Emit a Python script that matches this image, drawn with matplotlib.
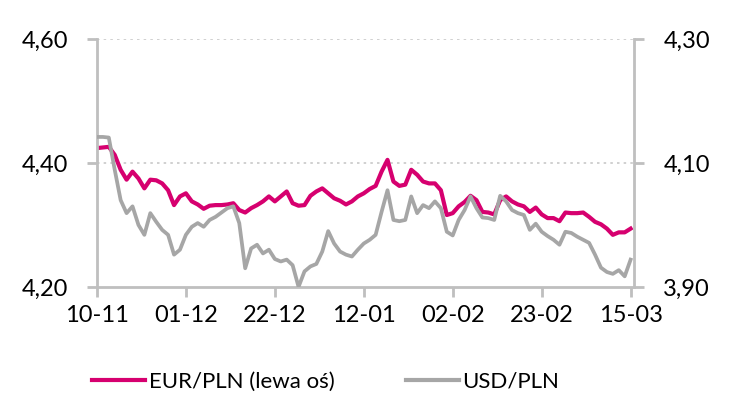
import matplotlib.pyplot as plt

plt.rcParams['font.family'] = ['Lato', 'DejaVu Sans']

# kursy (dni robocze)
eur_pln = [4.424, 4.425, 4.426, 4.413, 4.389, 4.373, 4.386, 4.375, 4.359, 4.373,
           4.372, 4.367, 4.356, 4.332, 4.346, 4.351, 4.338, 4.333, 4.326, 4.331,
           4.332, 4.332, 4.333, 4.335, 4.324, 4.320, 4.327, 4.332, 4.338, 4.346,
           4.338, 4.346, 4.354, 4.335, 4.331, 4.332, 4.347, 4.354, 4.359, 4.351,
           4.343, 4.339, 4.333, 4.338, 4.346, 4.351, 4.358, 4.363, 4.386, 4.405,
           4.370, 4.363, 4.365, 4.389, 4.381, 4.370, 4.367, 4.367, 4.356, 4.316,
           4.319, 4.330, 4.337, 4.347, 4.340, 4.321, 4.320, 4.317, 4.340, 4.346,
           4.338, 4.333, 4.330, 4.321, 4.328, 4.317, 4.311, 4.311, 4.306, 4.320,
           4.319, 4.319, 4.320, 4.313, 4.305, 4.301, 4.294, 4.284, 4.288, 4.288,
           4.294]
usd_pln = [4.142, 4.142, 4.141, 4.089, 4.040, 4.019, 4.030, 4.000, 3.984, 4.019,
           4.005, 3.992, 3.984, 3.952, 3.960, 3.984, 3.997, 4.003, 3.997, 4.008,
           4.013, 4.020, 4.027, 4.030, 4.003, 3.930, 3.962, 3.968, 3.954, 3.960,
           3.945, 3.941, 3.944, 3.935, 3.900, 3.925, 3.933, 3.937, 3.957, 3.990,
           3.970, 3.957, 3.952, 3.949, 3.960, 3.970, 3.976, 3.984, 4.021, 4.056,
           4.008, 4.006, 4.008, 4.046, 4.019, 4.032, 4.027, 4.038, 4.027, 3.989,
           3.983, 4.008, 4.024, 4.046, 4.027, 4.012, 4.011, 4.008, 4.047, 4.038,
           4.024, 4.019, 4.016, 3.992, 4.002, 3.989, 3.982, 3.976, 3.968, 3.989,
           3.987, 3.981, 3.976, 3.971, 3.952, 3.931, 3.924, 3.921, 3.927, 3.917,
           3.944]
tick_labels = ['10-11', '01-12', '22-12', '12-01', '02-02', '23-02', '15-03']
left_ticks = [4.20, 4.40, 4.60]
right_ticks = [3.90, 4.10, 4.30]

pink = '#d6006f'
grey = '#a6a6a6'
axis_col = '#bfbfbf'
x = list(range(len(eur_pln)))

fig = plt.figure(figsize=(7.4, 4.11), dpi=100)
ax = fig.add_axes([0.131, 0.302, 0.726, 0.603])
ax2 = ax.twinx()

ax.plot(x, eur_pln, color=pink, lw=3.0, solid_joinstyle='round')
ax2.plot(x, usd_pln, color=grey, lw=2.7, solid_joinstyle='round')

ax.set_xlim(0, 90.6)
ax.set_ylim(4.20, 4.60)
ax2.set_ylim(3.90, 4.30)

ax.set_yticks(left_ticks)
ax.set_yticklabels([f'{v:.2f}'.replace('.', ',') for v in left_ticks])
ax2.set_yticks(right_ticks)
ax2.set_yticklabels([f'{v:.2f}'.replace('.', ',') for v in right_ticks])
ax.set_xticks(range(0, 91, 15))
ax.set_xticklabels(tick_labels)

for v in left_ticks[1:]:
    ax.axhline(v, color='#c8c8c8', lw=1.2, ls=(0, (1.5, 2.5)), zorder=0)

for a in (ax, ax2):
    for s in a.spines.values():
        s.set_color(axis_col)
        s.set_linewidth(2)
    a.spines['top'].set_visible(False)
    a.tick_params(colors=axis_col, labelcolor='black', labelsize=17,
                  width=2, length=7, pad=14)
ax.spines['right'].set_visible(False)
ax2.spines['left'].set_visible(False)
ax2.spines['bottom'].set_visible(False)
ax.tick_params(axis='x', pad=6)

h1, = ax.plot([], [], color=pink, lw=3.0)
h2, = ax.plot([], [], color=grey, lw=3.0)
fig.legend([h1, h2], ['EUR/PLN (lewa oś)', 'USD/PLN'], loc='center',
           bbox_to_anchor=(0.44, 0.071), ncol=2, frameon=False, fontsize=16,
           handlelength=2.4, handletextpad=0.15, columnspacing=3.2)

fig.savefig('out.png', dpi=100)
